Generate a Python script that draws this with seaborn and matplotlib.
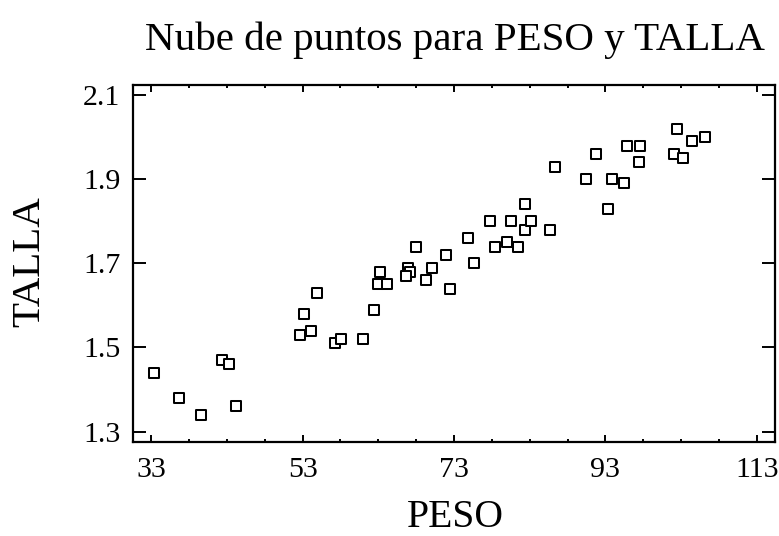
import matplotlib
matplotlib.use("Agg")
import matplotlib.pyplot as plt
import seaborn as sns
import pandas as pd
from matplotlib.ticker import FixedLocator

# Weight (PESO) and height (TALLA) observations
peso = [33.4, 36.7, 39.6, 42.3, 43.3, 44.2, 52.7, 53.2, 54.1, 54.9,
        57.3, 58.1, 61.0, 62.4, 63.2, 62.9, 64.2, 66.9, 67.2, 66.6,
        68.0, 70.1, 69.3, 72.0, 72.5, 74.9, 75.7, 77.8, 78.4, 80.0,
        80.5, 81.5, 82.4, 82.4, 83.2, 85.7, 86.4, 90.4, 91.8, 93.4,
        93.9, 95.5, 95.8, 97.4, 97.6, 102.0, 102.4, 103.3, 104.4, 106.1]
talla = [1.44, 1.38, 1.34, 1.47, 1.46, 1.36, 1.53, 1.58, 1.54, 1.63,
         1.51, 1.52, 1.52, 1.59, 1.68, 1.65, 1.65, 1.69, 1.68, 1.67,
         1.74, 1.69, 1.66, 1.72, 1.64, 1.76, 1.70, 1.80, 1.74, 1.75,
         1.80, 1.74, 1.84, 1.78, 1.80, 1.78, 1.93, 1.90, 1.96, 1.83,
         1.90, 1.89, 1.98, 1.94, 1.98, 1.96, 2.02, 1.95, 1.99, 2.00]

x_ticks = [33, 53, 73, 93, 113]
y_ticks = [1.3, 1.5, 1.7, 1.9, 2.1]
x_ticklabels = ["33", "53", "73", "93", "113"]
y_ticklabels = ["1.3", "1.5", "1.7", "1.9", "2.1"]

title = "Nube de puntos para PESO y TALLA"
x_label = "PESO"
y_label = "TALLA"

df = pd.DataFrame({"PESO": peso, "TALLA": talla})

sns.set_style("ticks")
plt.rcParams["font.family"] = ["Liberation Serif", "DejaVu Serif"]
plt.rcParams["text.color"] = "black"
plt.rcParams["xtick.color"] = "black"
plt.rcParams["ytick.color"] = "black"

W, H = 779, 536
fig = plt.figure(figsize=(W / 100, H / 100), dpi=100)
left, right, top, bottom = 133, 775, 85, 441.7
ax = fig.add_axes([left / W, 1 - bottom / H, (right - left) / W, (bottom - top) / H])

sns.scatterplot(data=df, x="PESO", y="TALLA", ax=ax, marker="s", s=46,
                facecolor="white", edgecolor="black", linewidth=1.45, zorder=3)

ax.set_xlim(30.6, 115.4)
ax.set_ylim(1.276, 2.124)
ax.xaxis.set_major_locator(FixedLocator(x_ticks))
ax.yaxis.set_major_locator(FixedLocator(y_ticks))
ax.xaxis.set_minor_locator(FixedLocator([v + d for v in x_ticks[:-1] for d in (5, 10, 15)]))
ax.set_xticklabels(x_ticklabels)
ax.set_yticklabels(y_ticklabels)

for sp in ax.spines.values():
    sp.set_visible(True)
    sp.set_linewidth(1.6)
    sp.set_color("black")

ax.tick_params(axis="x", which="major", direction="in", length=4.8, width=1.4,
               top=True, bottom=True, labelsize=21.5, pad=11, labelcolor="black")
ax.tick_params(axis="x", which="minor", direction="in", length=2.4, width=1.4,
               top=True, bottom=True)
ax.tick_params(axis="y", which="major", direction="in", length=9.5, width=1.4,
               left=True, right=True, labelsize=21.5, pad=9, labelcolor="black")

ax.set_xlabel("")
ax.set_ylabel("")
fig.text(455 / W, 1 - 50 / H, title, ha="center", va="baseline", fontsize=29.5, color="black")
fig.text(455 / W, 1 - 527 / H, x_label, ha="center", va="baseline", fontsize=28.5, color="black")
fig.text(48 / W, 1 - 262 / H, y_label, ha="right", va="center", rotation=90,
         fontsize=29.5, color="black")

fig.savefig("out.png", dpi=100, facecolor="white")
